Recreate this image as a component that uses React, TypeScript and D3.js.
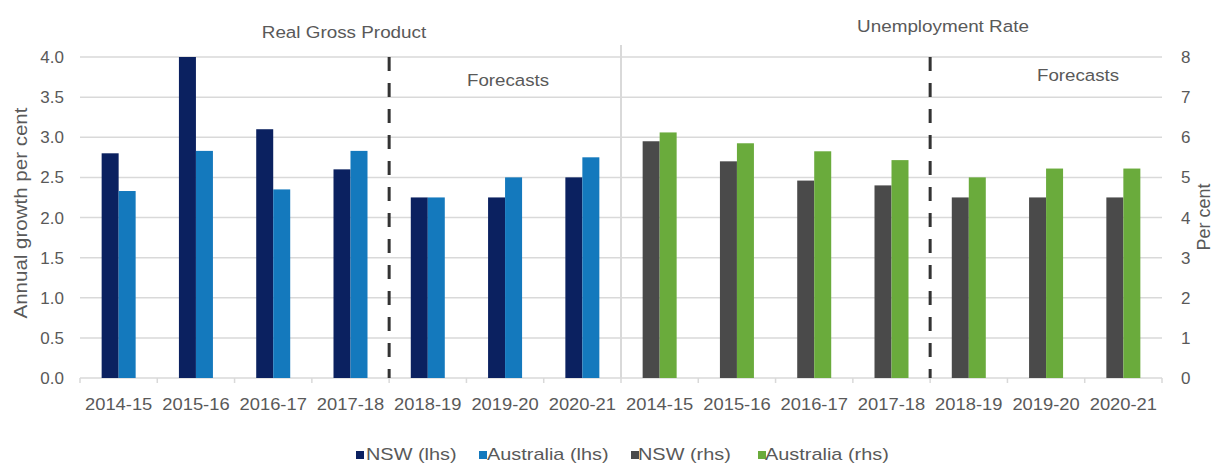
import React from "react";
import * as d3 from "d3";

const years = ["2014-15", "2015-16", "2016-17", "2017-18", "2018-19", "2019-20", "2020-21"];
const nswGrowth = [2.8, 4.0, 3.1, 2.6, 2.25, 2.25, 2.5];
const ausGrowth = [2.33, 2.83, 2.35, 2.83, 2.25, 2.5, 2.75];
const nswUnemp = [5.9, 5.4, 4.92, 4.8, 4.5, 4.5, 4.5];
const ausUnemp = [6.12, 5.85, 5.65, 5.43, 5.0, 5.22, 5.22];
const leftTicks = [0, 0.5, 1, 1.5, 2, 2.5, 3, 3.5, 4];
const rightTicks = [0, 1, 2, 3, 4, 5, 6, 7, 8];
const legendLabels = ["NSW (lhs)", "Australia (lhs)", "NSW (rhs)", "Australia (rhs)"];
const colors = ["#0b2160", "#1479bd", "#4a4a4a", "#6aab3c"];

const W = 1216;
const H = 464;
const x0 = 80;
const x1 = 1162;
const yTop = 57;
const yBot = 378;
const font = "'Liberation Sans', Arial, sans-serif";
const textColor = "#595959";
const gridColor = "#d9d9d9";

function T(props: { x: number; y: number; sx?: number; size?: number; anchor?: string; rotate?: number; children: React.ReactNode }) {
  const { x, y, sx = 1, size = 17, anchor = "start", rotate = 0, children } = props;
  return (
    <text
      transform={`translate(${x},${y}) rotate(${rotate}) scale(${sx},1)`}
      textAnchor={anchor}
      fontSize={size}
      fill={textColor}
    >
      {children}
    </text>
  );
}

export default function App() {
  const cats = [...years.map((y) => "L" + y), ...years.map((y) => "R" + y)];
  const xBand = d3.scaleBand<string>().domain(cats).range([x0, x1]).paddingInner(0).paddingOuter(0);
  const step = xBand.step();
  const barW = 17;
  const yL = d3.scaleLinear().domain([0, 4]).range([yBot, yTop]);
  const yR = d3.scaleLinear().domain([0, 8]).range([yBot, yTop]);

  const bars: React.ReactNode[] = [];
  years.forEach((yr, i) => {
    const cL = (xBand("L" + yr) as number) + step / 2;
    bars.push(<rect key={"nl" + i} x={cL - barW} y={yL(nswGrowth[i])} width={barW} height={yBot - yL(nswGrowth[i])} fill={colors[0]} />);
    bars.push(<rect key={"al" + i} x={cL} y={yL(ausGrowth[i])} width={barW} height={yBot - yL(ausGrowth[i])} fill={colors[1]} />);
    const cR = (xBand("R" + yr) as number) + step / 2;
    bars.push(<rect key={"nr" + i} x={cR - barW} y={yR(nswUnemp[i])} width={barW} height={yBot - yR(nswUnemp[i])} fill={colors[2]} />);
    bars.push(<rect key={"ar" + i} x={cR} y={yR(ausUnemp[i])} width={barW} height={yBot - yR(ausUnemp[i])} fill={colors[3]} />);
  });

  const sepX = xBand("R" + years[0]) as number;
  const dash1 = xBand("L" + years[4]) as number;
  const dash2 = xBand("R" + years[4]) as number;

  const legendSq = [356, 479, 631, 758];
  const legendTx = [366, 487, 638, 765];

  return (
    <svg width={W} height={H} style={{ position: "absolute", left: 0, top: 0, background: "#fff" }} fontFamily={font}>
      {leftTicks.map((t) => (
        <line key={"g" + t} x1={x0} x2={x1} y1={yL(t)} y2={yL(t)} stroke={gridColor} strokeWidth={1.5} />
      ))}
      {d3.range(cats.length + 1).map((i) => (
        <line key={"xt" + i} x1={x0 + i * step} x2={x0 + i * step} y1={yBot} y2={yBot + 5} stroke={gridColor} strokeWidth={1.5} />
      ))}
      <line x1={sepX} x2={sepX} y1={45} y2={yBot} stroke={gridColor} strokeWidth={2} />
      {bars}
      {[dash1, dash2].map((dx, i) => (
        <line key={"d" + i} x1={dx} x2={dx} y1={yTop} y2={yBot} stroke="#333" strokeWidth={3} strokeDasharray="14,12" />
      ))}
      {leftTicks.map((t) => (
        <T key={"lt" + t} x={64} y={yL(t) + 6} anchor="end">
          {d3.format(".1f")(t)}
        </T>
      ))}
      {rightTicks.map((t) => (
        <T key={"rt" + t} x={1181} y={yR(t) + 6}>
          {t}
        </T>
      ))}
      {cats.map((c, i) => (
        <T key={"xl" + i} x={(xBand(c) as number) + step / 2} y={410} anchor="middle" sx={1.08}>
          {c.slice(1)}
        </T>
      ))}
      <T x={27} y={213} rotate={-90} anchor="middle" size={19} sx={1.08}>
        Annual growth per cent
      </T>
      <T x={1210} y={217} rotate={-90} anchor="middle" size={18}>
        Per cent
      </T>
      <T x={344} y={38} anchor="middle" sx={1.11}>Real Gross Product</T>
      <T x={943} y={32} anchor="middle" sx={1.11}>Unemployment Rate</T>
      <T x={508} y={86} anchor="middle" sx={1.1}>Forecasts</T>
      <T x={1078} y={81} anchor="middle" sx={1.1}>Forecasts</T>
      {legendLabels.map((l, i) => (
        <g key={"lg" + i}>
          <rect x={legendSq[i]} y={451} width={8} height={8} fill={colors[i]} />
          <T x={legendTx[i]} y={460} sx={1.17}>{l}</T>
        </g>
      ))}
    </svg>
  );
}
